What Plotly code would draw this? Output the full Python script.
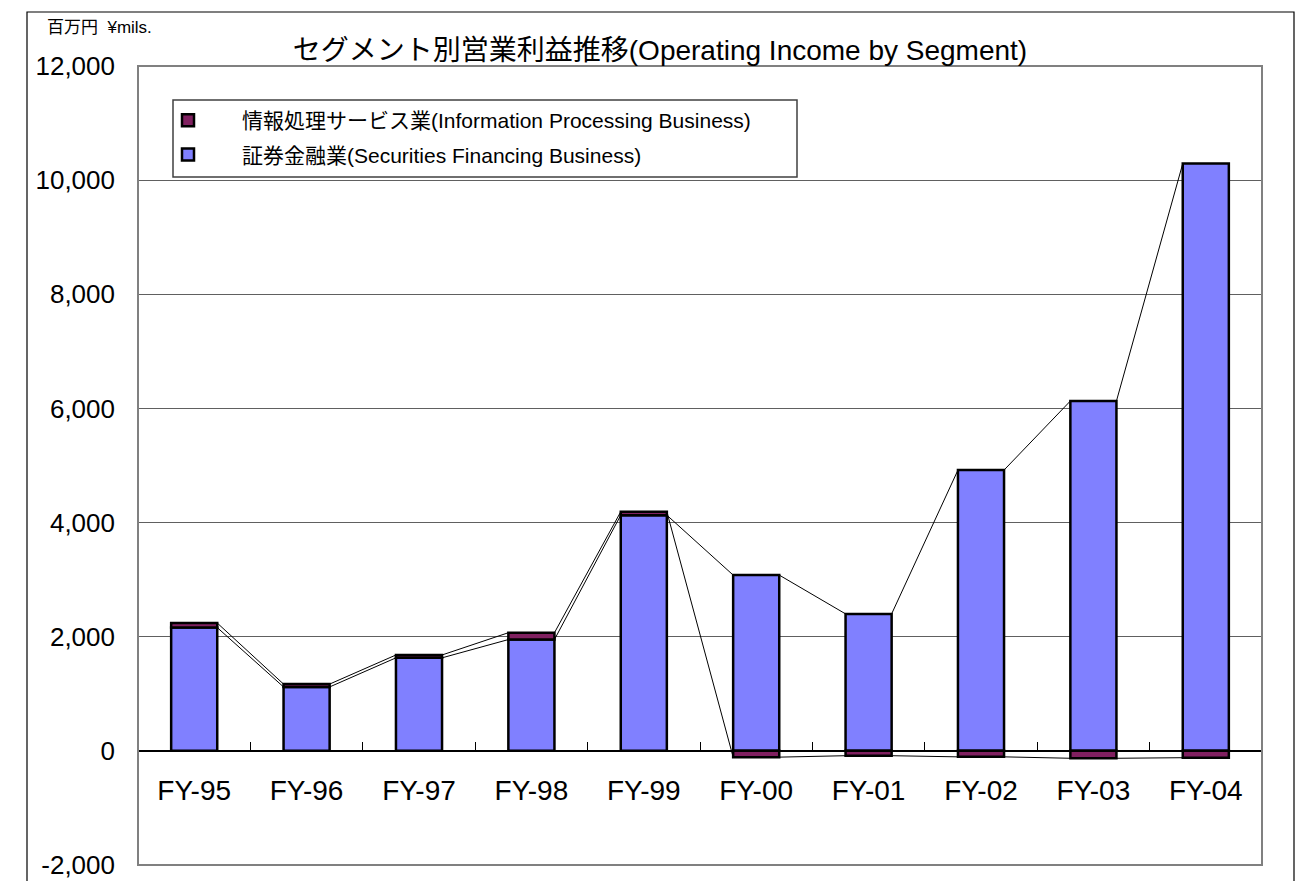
import plotly.graph_objects as go

years = ["FY-95", "FY-96", "FY-97", "FY-98", "FY-99", "FY-00", "FY-01", "FY-02", "FY-03", "FY-04"]
securities = [2160, 1120, 1630, 1950, 4130, 3080, 2400, 4920, 6130, 10290]
info_proc = [80, 50, 50, 120, 60, -110, -85, -105, -130, -120]
y_ticks = [-2000, 0, 2000, 4000, 6000, 8000, 10000, 12000]
y_labels = ["-2,000", "0", "2,000", "4,000", "6,000", "8,000", "10,000", "12,000"]

name_sec = "証券金融業(Securities Financing Business)"
name_info = "情報処理サービス業(Information Processing Business)"

BLUE = "#8080FF"
PURPLE = "#802060"
BAR_W = 0.41
FONT = "Liberation Sans, Noto Sans CJK JP, sans-serif"

# plot area in pixels (1306x881 page)
L, R, T, B = 138, 1262, 66, 865
W, H = 1306, 881


def px_x(x):
    return (x - L) / (R - L)


def px_y(y):
    return (B - y) / (B - T)


xs = list(range(len(years)))

fig = go.Figure()
fig.add_trace(go.Bar(x=xs, y=securities, name=name_sec, width=BAR_W,
                     marker=dict(color=BLUE, line=dict(color="black", width=2.5)),
                     legendrank=2, legendgroup="sec"))
fig.add_trace(go.Bar(x=xs, y=info_proc, name=name_info, width=BAR_W,
                     marker=dict(color=PURPLE, line=dict(color="black", width=2.5)),
                     legendrank=1, legendgroup="info"))

# excel style series lines between bar tops
sec_top = securities
info_top = [s + p if p >= 0 else p for s, p in zip(securities, info_proc)]
for tops in (sec_top, info_top):
    lx, ly = [], []
    for i in range(len(xs) - 1):
        lx += [xs[i] + BAR_W / 2, xs[i + 1] - BAR_W / 2, None]
        ly += [tops[i], tops[i + 1], None]
    fig.add_trace(go.Scatter(x=lx, y=ly, mode="lines", line=dict(color="black", width=1),
                             showlegend=False, hoverinfo="skip"))

fig.update_layout(
    width=W, height=H,
    barmode="relative",
    plot_bgcolor="white", paper_bgcolor="white",
    margin=dict(l=L, r=W - R, t=T, b=H - B, autoexpand=False),
    font=dict(family=FONT, color="black"),
    title=dict(text="セグメント別営業利益推移(Operating Income by Segment)",
               x=660 / W, y=1 - 50 / H, xanchor="center", yanchor="middle",
               font=dict(size=28, family=FONT, color="black")),
    legend=dict(x=px_x(134), y=px_y(100), xanchor="left", yanchor="top",
                bgcolor="rgba(0,0,0,0)", borderwidth=0,
                font=dict(size=21, family=FONT), traceorder="grouped",
                tracegroupgap=4, itemwidth=98),
    showlegend=True,
)

fig.update_yaxes(range=[-2000, 12000], tickvals=y_ticks, ticktext=y_labels,
                 showgrid=True, gridcolor="#606060", gridwidth=1, zeroline=False,
                 showline=False, ticks="", ticklabelstandoff=22, automargin=False,
                 tickfont=dict(size=26, family=FONT))
fig.update_xaxes(range=[-0.5, len(years) - 0.5], tickvals=xs, ticktext=years,
                 anchor="free", position=2000 / 14000, automargin=False,
                 showline=True, linecolor="black", linewidth=1.5,
                 showgrid=False, zeroline=False, ticks="",
                 ticklabelstandoff=15, tickfont=dict(size=28, family=FONT),
                 minor=dict(tick0=-0.5, dtick=1, ticks="inside", ticklen=8,
                            tickcolor="black", tickwidth=1, showgrid=False))

# plot area frame
fig.add_shape(type="rect", xref="paper", yref="paper", x0=0, x1=1, y0=0, y1=1,
              line=dict(color="#808080", width=2), layer="above")
# outer chart frame
fig.add_shape(type="rect", xref="paper", yref="paper",
              x0=px_x(27), x1=px_x(1294), y0=px_y(900), y1=px_y(12),
              line=dict(color="black", width=1.2))
# legend frame
fig.add_shape(type="rect", xref="paper", yref="paper",
              x0=px_x(173), x1=px_x(797), y0=px_y(177), y1=px_y(100),
              line=dict(color="#404040", width=1.5), fillcolor="white", layer="below")

fig.add_annotation(text="百万円  ¥mils.", xref="paper", yref="paper",
                   x=px_x(45), y=px_y(28), xanchor="left", yanchor="middle",
                   showarrow=False, font=dict(size=17, family=FONT))

fig.write_html("out.html", config={"displayModeBar": False},
               post_script="document.body.style.margin='0';")
